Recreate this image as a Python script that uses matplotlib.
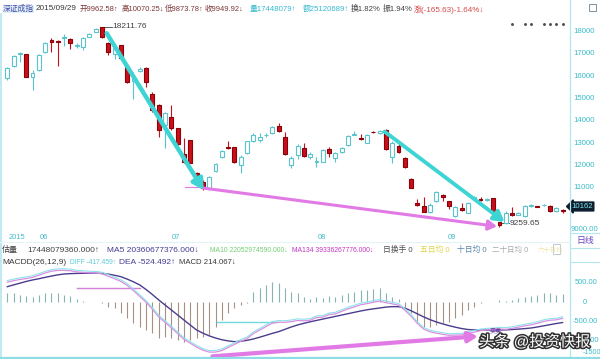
import matplotlib
matplotlib.use('Agg')
import matplotlib.pyplot as plt
import matplotlib.patheffects as pe
from matplotlib.transforms import ScaledTranslation, blended_transform_factory
from matplotlib.patches import Rectangle
import numpy as np

plt.rcParams['font.family'] = ['Liberation Sans', 'Noto Sans CJK SC', 'DejaVu Sans']

# ---------------- data ----------------
opens = [15910, 16462, 16990, 16990, 15990, 16283, 17103, 17650, 17600, 17700,
         17670, 17380, 17327, 17776, 18000, 18190, 17500, 17000, 17400, 16400,
         15800, 16250, 16380, 15220, 14700, 13816, 14190, 13660, 12520, 13140,
         11650, 11250, 10982, 11753, 12400, 12850, 12830, 12023, 12560, 13110,
         13150, 13350, 13444, 13770, 13260, 12023, 12490, 12780, 12400, 12150,
         12170, 12735, 12350, 12600, 12920, 13380, 13230, 13026, 13520, 13450,
         13600, 12395, 12875, 12350, 11395, 10300, 10184, 9900, 10422, 10677,
         10408, 9736, 10108, 9884, 10540, 10480, 10470, 10530, 9450, 9410,
         9860, 9800, 9740, 10180, 10180, 10210, 10190, 9950, 9962.58]
highs = [16420, 16950, 17100, 17020, 16280, 17000, 17550, 17700, 17620, 17900,
         17700, 17500, 17780, 17950, 18150, 18211.76, 17550, 17350, 17420, 16450,
         16200, 16400, 16400, 15300, 14750, 14400, 14710, 13700, 13240, 13150,
         11700, 11350, 11550, 12100, 12700, 13110, 12850, 12450, 13120, 13450,
         13450, 13450, 13780, 13920, 13520, 12440, 12950, 13010, 12600, 12400,
         12750, 12850, 12600, 12850, 13380, 13550, 13420, 13420, 13540, 13600,
         13650, 13080, 13050, 12380, 11420, 10500, 10587, 10300, 10870, 10700,
         10430, 10200, 10333, 10380, 10640, 10600, 10560, 10560, 9480, 9950,
         10120, 9900, 10250, 10260, 10200, 10270, 10210, 10150, 10070.25]
lows = [15850, 16420, 16660, 15950, 15390, 16250, 17050, 17100, 16460, 17350,
        17210, 17250, 17200, 17750, 17980, 17700, 16950, 16760, 16710, 15700,
        14970, 16200, 15530, 14400, 13290, 12770, 13600, 12900, 12100, 12100,
        11300, 10880, 10900, 11700, 12350, 12750, 12100, 11680, 12500, 13050,
        13050, 13280, 13400, 13520, 12480, 11880, 12300, 12400, 12280, 11950,
        12150, 12400, 12150, 12550, 12880, 13350, 13150, 13000, 13460, 13400,
        12700, 12100, 12580, 11880, 10980, 10200, 9900, 9850, 10380, 10422,
        10050, 9700, 9980, 9850, 10520, 10400, 10420, 9880, 9259.65, 9380,
        9740, 9760, 9700, 10150, 10140, 10190, 9920, 9930, 9873.78]
closes = [16359, 16910, 17060, 15955, 16160, 16955, 17507, 17560, 17550, 17780,
          17480, 17420, 17704, 17897, 18100, 17750, 17100, 17300, 16800, 15760,
          16000, 16330, 15760, 14489, 13600, 14341, 13670, 12960, 12170, 12130,
          11380, 11000, 11502, 12054, 12650, 12800, 12140, 12395, 13080, 13370,
          13300, 13380, 13740, 13560, 12520, 12323, 12860, 12440, 12500, 12200,
          12695, 12550, 12550, 12770, 13327, 13430, 13180, 13370, 13480, 13550,
          12730, 13005, 12620, 11919, 11004, 10250, 9930, 10250, 10825, 10573,
          10184, 10153, 10004, 10333, 10600, 10440, 10500, 9930, 9320, 9884,
          9770, 9850, 10184, 10220, 10160, 10240, 9940, 10115.55, 9949.92]

macd_hist = [250, 230, 190, 150, 130, 190, 230, 250, 230, 190,
             150, 80, 45, 20, 10, -20, -112, -155, -285, -414,
             -544, -630, -716, -803, -932, -889, -932, -975, -1018, -975,
             -932, -889, -846, -630, -457, -285, -155, -69, -9, 276,
             362, 449, 535, 492, 362, 276, 233, 130, 78, 147,
             104, 164, 130, 190, 250, 276, 319, 319, 337, 362,
             233, 147, 78, -112, -285, -500, -630, -630, -587, -544,
             -500, -414, -328, -199, -112, -26, 10, 20, 60, 30,
             60, 104, 147, 164, 190, 233, 233, 190, 214.067]
dea = [404, 450, 495, 540, 578, 610, 645, 680, 710, 733,
       742, 748, 752, 753, 752, 748, 730, 700, 663, 600,
       530, 448, 330, 200, 60, -70, -200, -329, -460, -590,
       -717, -800, -870, -925, -970, -1000, -1020, -1010, -985, -950,
       -905, -855, -805, -761, -700, -640, -588, -545, -505, -470,
       -435, -400, -365, -330, -295, -260, -225, -195, -170, -148,
       -125, -112, -114, -150, -220, -300, -380, -450, -510, -560,
       -605, -645, -680, -705, -717, -722, -722, -720, -718, -715,
       -705, -695, -682, -666, -640, -610, -580, -550, -524.492]
dif = [520, 560, 590, 615, 645, 700, 760, 805, 825, 828,
       817, 788, 775, 763, 757, 738, 674, 610, 540, 440,
       300, 150, 0, -180, -380, -520, -660, -810, -960, -1060,
       -1160, -1240, -1290, -1290, -1250, -1170, -1090, -1010, -940, -810,
       -720, -630, -540, -515, -520, -500, -470, -480, -465, -395,
       -385, -320, -300, -235, -170, -120, -65, -35, 0, 30,
       -10, -40, -75, -205, -360, -550, -695, -765, -800, -830,
       -855, -850, -845, -805, -775, -735, -717, -710, -690, -700,
       -675, -645, -610, -585, -545, -495, -465, -455, -417.459]

month_labels = ['2015', '06', '07', '08', '09']
month_pos = [0.15, 5.2, 26.05, 49.2, 69.8]
price_ticks = [18000, 17000, 16000, 15000, 14000, 13000, 12000, 11000]
signal_idx = [80, 82, 83, 85, 86, 87, 88]
peak_value = 18211.76
low_value = 9259.65
cursor_value = 10162

# ---------------- figure ----------------
W, H = 600, 359
fig = plt.figure(figsize=(6, 3.59), dpi=100)
fig.patch.set_facecolor('white')


def fx(x):
    return x / W


def fy(y):
    return 1 - y / H


n = len(opens)
idx = np.arange(n)
XL = (-0.84, 89.02)

ax = fig.add_axes([fx(2), fy(232), fx(569) - fx(2), fy(16) - fy(232)])
ax.set_xlim(*XL)
ax.set_ylim(9018, 18704)
ax.axis('off')

up_col = '#5ac4cc'
dn_face = '#c8101c'
dn_edge = '#8c0008'
for i in range(n):
    o, h, l, c = opens[i], highs[i], lows[i], closes[i]
    if c >= o:
        ec, fc, wc = up_col, 'white', up_col
    else:
        ec, fc, wc = dn_edge, dn_face, dn_face
    ax.vlines(i, l, h, color=wc, lw=0.8, zorder=2)
    ax.bar(i, max(abs(c - o), 40), bottom=min(o, c), width=0.62,
           facecolor=fc, edgecolor=ec, lw=0.8, zorder=3)

# signal dots near the top
ax.plot(signal_idx, [18330] * len(signal_idx), ls='none', marker='.',
        ms=2.2, color='#505050')

# peak / low labels
ipk = int(np.argmax(highs))
ax.plot([ipk, ipk + 1.6], [peak_value, peak_value], color='#404040', lw=0.6)
ax.text(ipk + 1.7, peak_value, f'{peak_value:.2f}', fontsize=6.0,
        color='#404040', va='center', ha='left')
ilo = int(np.argmin(lows))
ax.plot([ilo, ilo + 1.5], [low_value + 150, low_value + 150], color='#404040', lw=0.6)
ax.text(ilo + 1.6, low_value + 150, f'{low_value:.2f}', fontsize=6.0,
        color='#404040', va='center', ha='left')

# annotation arrows
teal = '#3fd4d4'
pink = '#e27ae6'
ax.annotate('', xy=(31.1, 10900), xytext=(15.75, 17930),
            arrowprops=dict(arrowstyle='-|>,head_length=0.6,head_width=0.35',
                            color=teal, lw=3.2, shrinkA=0, shrinkB=0), zorder=5)
ax.annotate('', xy=(78.8, 9470), xytext=(59.8, 13520),
            arrowprops=dict(arrowstyle='-|>,head_length=0.6,head_width=0.35',
                            color=teal, lw=2.8, shrinkA=0, shrinkB=0), zorder=5)
ax.plot([28.2, 31.0], [11040, 11040], color=pink, lw=0.8, zorder=4)
ax.annotate('', xy=(77.6, 9270), xytext=(31.0, 10990),
            arrowprops=dict(arrowstyle='-|>,head_length=0.5,head_width=0.3',
                            color=pink, lw=2.2, shrinkA=0, shrinkB=0), zorder=4)

# right axis labels
rt = blended_transform_factory(ax.transAxes, ax.transData)
for p in price_ticks:
    ax.text(1.008, p, str(p), transform=rt, fontsize=5.6, color='#3cbcc8',
            va='center', ha='left')
ax.text(1.003, 9150, '9000.00', transform=rt, fontsize=5.6, color='#3cbcc8',
        va='center', ha='left')
ax.text(1.004, cursor_value, str(cursor_value), transform=rt, fontsize=5.6,
        color='#7fe8f0', va='center', ha='left',
        bbox=dict(boxstyle='larrow,pad=0.12', fc='#0c1c2c', ec='#0c1c2c'))

# ---------------- MACD panel ----------------
axm = fig.add_axes([fx(2), fy(357), fx(569) - fx(2), fy(268) - fy(357)])
axm.set_xlim(*XL)
axm.set_ylim(-1417, 888)
axm.axis('off')
hc = ['#86b4b4' if v >= 0 else '#a89080' for v in macd_hist]
axm.vlines(idx, 0, macd_hist, colors=hc, lw=0.8)
axm.plot(idx, dea, color='#4b3c8c', lw=1.0, zorder=3)
axm.plot(idx, dif, color='#da8ee2', lw=0.9, zorder=3)
axm.plot(idx, dif, color='#8ee2ea', lw=0.8, zorder=3,
         transform=axm.transData + ScaledTranslation(0, 1.6 / 100, fig.dpi_scale_trans))
axm.plot([11, 21], [363, 363], color='#d080d8', lw=1.0)
axm.plot([33.2, 42.7], [-502, -502], color='#70d8e0', lw=1.0)
axm.annotate('', xy=(74.6, -880), xytext=(32.5, -1400),
             arrowprops=dict(arrowstyle='-|>,head_length=0.55,head_width=0.3',
                             color=pink, lw=3.0, shrinkA=0, shrinkB=0), zorder=5)
axm.text(76.5, -735, '买卖', fontsize=4.3, color='#6030a0', va='center', ha='left')

rtm = blended_transform_factory(axm.transAxes, axm.transData)
axm.text(1.010, 500, '500.00', transform=rtm, fontsize=5.4, color='#3cbcc8', va='center')
axm.text(1.025, 0, '0', transform=rtm, fontsize=5.4, color='#3cbcc8', va='center')
axm.text(1.006, -500, '-500.00', transform=rtm, fontsize=5.4, color='#3cbcc8', va='center')
axm.text(1.002, -1000, '-1000.00', transform=rtm, fontsize=5.4, color='#3cbcc8',
         va='center', zorder=1)
fig.text(fx(583), fy(352.5), '-1500', fontsize=5.2, color='#3cbcc8', va='center')

# ---------------- frame lines ----------------
line_c = '#b4e6ee'
fig.add_artist(plt.Line2D([fx(569.5)] * 2, [0, 1], color=line_c, lw=0.9))
fig.add_artist(plt.Line2D([fx(1)] * 2, [fy(359), fy(14)], color=line_c, lw=1.2))
fig.add_artist(plt.Line2D([0, 1], [fy(357.5)] * 2, color='#8edce6', lw=1.6))
fig.add_artist(plt.Line2D([0, fx(569.5)], [fy(242)] * 2, color='#e4f4f6', lw=0.8))
fig.add_artist(plt.Line2D([fx(569.5), 1], [fy(233)] * 2, color=line_c, lw=0.8))
fig.add_artist(plt.Line2D([fx(569.5), 1], [fy(248)] * 2, color=line_c, lw=0.8))
fig.add_artist(plt.Line2D([fx(569.5), 1], [fy(262)] * 2, color=line_c, lw=0.8))
fig.add_artist(Rectangle((fx(589), fy(11)), fx(7), fy(4) - fy(11), fill=False,
                         ec='#8090a0', lw=0.7))
fig.add_artist(Rectangle((fx(553), fy(254)), fx(7), fy(244) - fy(254), fill=False,
                         ec='#c0c8d0', lw=0.7))


def t(x, y, s, c, fs=6.0, **kw):
    fig.text(fx(x), fy(y), s, color=c, fontsize=fs, va='center', ha='left', **kw)


# header
t(3, 9, '深证成指', '#4a44a8', fs=5.6,
  bbox=dict(boxstyle='square,pad=0.05', fc='#dcf2f8', ec='none'))
t(36, 9, '2015/09/29', '#383838', fs=5.9)
t(80, 9, '开9962.58↑', '#7a3434', fs=5.4)
t(121.5, 9, '高10070.25↓', '#7a3434', fs=5.4)
t(164.5, 9, '低9873.78↑', '#7a3434', fs=5.4)
t(204.5, 9, '收9949.92↓', '#7a3434', fs=5.4)
t(250, 9, '量17448079↑', '#38b8d0', fs=5.6)
t(303, 9, '额25120689↑', '#38b8d0', fs=5.6)
t(351, 9, '换1.82%', '#404040', fs=5.6)
t(383, 9, '振1.94%', '#404040', fs=5.6)
t(414, 9, '涨(-165.63)-1.64%↓', '#d84848', fs=5.8)

# date axis labels
for lab, pos in zip(month_labels, month_pos):
    ax.text(pos, 8760, lab, fontsize=5.4, color='#40bccc', va='center', ha='left',
            clip_on=False)

# volume row
t(2, 250, '估量', '#404040', fs=5.8)
t(27, 250, '17448079360.000↑', '#404040', fs=6.0)
t(107, 250, 'MA5 20360677376.000↓', '#443c94', fs=6.0)
t(210, 250, 'MA10 22052974590.000↓', '#74cc74', fs=4.9)
t(292, 250, 'MA134 39336267776.000↓', '#c434c4', fs=4.9)
t(383, 250, '日换手 0', '#505050', fs=5.6)
t(420, 250, '五日均 0', '#e2d448', fs=5.6)
t(457, 250, '十日均 0', '#5a86a8', fs=5.6)
t(492, 250, '二十日均 0', '#a8a8a8', fs=5.4)
t(538, 250, '六十日均', '#eee6a8', fs=4.6)
t(576, 240, '日线', '#6a44c4', fs=6.4)

# MACD row
t(2, 262, 'MACDD(26,12,9)', '#383838', fs=6.0)
t(70, 262, 'DIFF -417.459↑', '#58ccd8', fs=4.8)
t(119, 262, 'DEA -524.492↑', '#443c94', fs=6.0)
t(179, 262, 'MACD 214.067↓', '#383838', fs=5.6)

# watermark
fig.text(fx(479), fy(342), '头条 @投资快报', fontsize=11, color='white',
         va='center', ha='left', zorder=10,
         path_effects=[pe.withStroke(linewidth=2.2, foreground='#303030')])

fig.savefig('out.png', dpi=100, facecolor='white')
